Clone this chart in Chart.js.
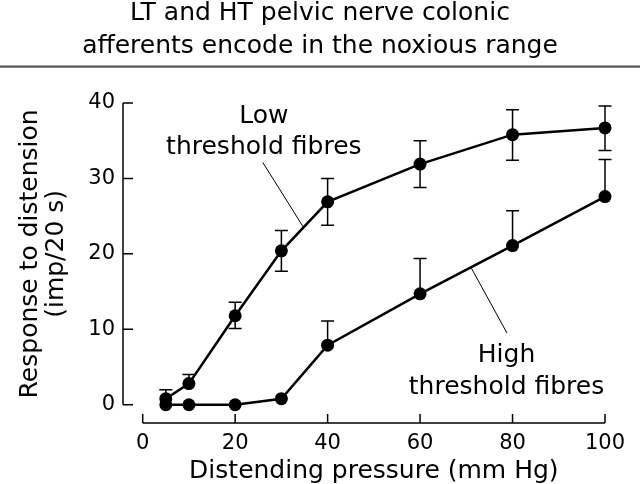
<!DOCTYPE html>
<html>
<head>
<meta charset="utf-8">
<script src="https://cdn.jsdelivr.net/npm/chart.js@4/dist/chart.umd.min.js"></script>
<style>
  html, body { margin: 0; padding: 0; background: #fff; }
  #chart { display: block; }
</style>
</head>
<body>
<canvas id="chart" width="640" height="484"></canvas>
<script>
// --- data ---
const pressure = [5, 10, 20, 30, 40, 60, 80, 100];
const lowMean  = [0.8, 2.8, 11.8, 20.4, 26.9, 31.9, 35.8, 36.7];
const lowUpper = [2.0, 4.0, 13.6, 23.1, 30.0, 35.0, 39.1, 39.6];
const lowLower = [null, null, 10.1, 17.7, 23.8, 28.8, 32.4, 33.7];
const highMean  = [0, 0, 0, 0.8, 7.9, 14.7, 21.1, 27.6];
const highUpper = [null, null, null, null, 11.1, 19.4, 25.7, 32.5];
const highLower = [null, null, null, null, null, null, null, null];

const xTicks = [0, 20, 40, 60, 80, 100];
const yTicks = [0, 10, 20, 30, 40];

const titleLines = ['LT and HT pelvic nerve colonic', 'afferents encode in the noxious range'];
const xTitle = 'Distending pressure (mm Hg)';
const yTitle = ['Response to distension', '(imp/20 s)'];
const lowLabel = ['Low', 'threshold fibres'];
const highLabel = ['High', 'threshold fibres'];

// label placement (in data units)
const notes = [
  { lines: lowLabel, x: 26.2, y: [37.4, 33.2], from: [26.0, 32.1], to: [34.8, 23.5] },
  { lines: highLabel, x: 78.7, y: [5.7, 1.36], from: [71.1, 18.1], to: [78.8, 9.5] }
];

const FONT = '"DejaVu Sans", sans-serif';

const toPoints = (xs, ys) => xs.map((v, i) => ({ x: v, y: ys[i] }));

const errorSets = [
  { upper: lowUpper, lower: lowLower, mean: lowMean },
  { upper: highUpper, lower: highLower, mean: highMean }
];

const extras = {
  id: 'extras',
  beforeDatasetsDraw(chart) {
    const { ctx, chartArea, scales: { x, y } } = chart;
    ctx.save();
    ctx.strokeStyle = '#000';
    ctx.lineWidth = 1.5;
    ctx.lineCap = 'butt';
    // axes with inward ticks
    const ax = chartArea.left, ay = chartArea.bottom;
    ctx.beginPath();
    ctx.moveTo(ax, y.getPixelForValue(yTicks[yTicks.length - 1]));
    ctx.lineTo(ax, y.getPixelForValue(yTicks[0]));
    yTicks.forEach(v => {
      const py = y.getPixelForValue(v);
      ctx.moveTo(ax, py); ctx.lineTo(ax + 10, py);
    });
    ctx.moveTo(x.getPixelForValue(xTicks[0]), ay);
    ctx.lineTo(x.getPixelForValue(xTicks[xTicks.length - 1]), ay);
    xTicks.forEach(v => {
      const px = x.getPixelForValue(v);
      ctx.moveTo(px, ay); ctx.lineTo(px, ay - 9);
    });
    ctx.stroke();

    // error bars
    ctx.lineWidth = 1.5;
    errorSets.forEach(set => {
      pressure.forEach((p, i) => {
        const px = x.getPixelForValue(p);
        const pm = y.getPixelForValue(set.mean[i]);
        [set.upper[i], set.lower[i]].forEach(v => {
          if (v === null || v === undefined) return;
          const pv = y.getPixelForValue(v);
          ctx.beginPath();
          ctx.moveTo(px, pm); ctx.lineTo(px, pv);
          ctx.moveTo(px - 6.5, pv); ctx.lineTo(px + 6.5, pv);
          ctx.stroke();
        });
      });
    });
    ctx.restore();
  },
  afterDraw(chart) {
    const { ctx, scales: { x, y } } = chart;
    ctx.save();
    ctx.fillStyle = '#000';

    // title + rule
    ctx.font = '25px ' + FONT;
    ctx.textAlign = 'center';
    ctx.textBaseline = 'alphabetic';
    ctx.fillText(titleLines[0], 320, 20);
    ctx.fillText(titleLines[1], 320, 53);
    ctx.fillStyle = '#555';
    ctx.fillRect(0, 65.5, 640, 2.2);
    ctx.fillStyle = '#000';

    // axis titles
    ctx.fillText(xTitle, x.getPixelForValue(50), 478);
    ctx.save();
    ctx.translate(37, y.getPixelForValue(20));
    ctx.rotate(-Math.PI / 2);
    ctx.fillText(yTitle[0], 0, 0);
    ctx.fillText(yTitle[1], 0, 26);
    ctx.restore();

    // curve labels with leader lines
    notes.forEach(n => {
      const cx = x.getPixelForValue(n.x);
      n.lines.forEach((t, i) => ctx.fillText(t, cx, y.getPixelForValue(n.y[i])));
      ctx.beginPath();
      ctx.strokeStyle = '#000';
      ctx.lineWidth = 1;
      ctx.moveTo(x.getPixelForValue(n.from[0]), y.getPixelForValue(n.from[1]));
      ctx.lineTo(x.getPixelForValue(n.to[0]), y.getPixelForValue(n.to[1]));
      ctx.stroke();
    });
    ctx.restore();
  }
};

const lineStyle = {
  borderColor: '#000',
  borderWidth: 2.5,
  pointRadius: 6.5,
  pointBackgroundColor: '#000',
  pointBorderColor: '#000',
  pointBorderWidth: 0,
  tension: 0,
  fill: false,
  clip: false
};

new Chart(document.getElementById('chart'), {
  type: 'line',
  data: {
    datasets: [
      { label: 'Low threshold fibres', data: toPoints(pressure, lowMean), ...lineStyle },
      { label: 'High threshold fibres', data: toPoints(pressure, highMean), ...lineStyle }
    ]
  },
  options: {
    responsive: false,
    animation: false,
    layout: { padding: { top: 103, right: 35, left: 0, bottom: 0 } },
    plugins: { legend: { display: false }, tooltip: { enabled: false } },
    scales: {
      x: {
        type: 'linear', min: -4.26, max: 100,
        afterBuildTicks: s => { s.ticks = xTicks.map(v => ({ value: v })); },
        afterFit: s => { s.height = 61; },
        grid: { display: false, drawTicks: false },
        border: { display: false },
        ticks: { color: '#000', font: { family: FONT, size: 21 }, padding: 8, maxRotation: 0 }
      },
      y: {
        type: 'linear', min: -2.42, max: 40,
        afterBuildTicks: s => { s.ticks = yTicks.map(v => ({ value: v })); },
        afterFit: s => { s.width = 123; },
        grid: { display: false, drawTicks: false },
        border: { display: false },
        ticks: { color: '#000', font: { family: FONT, size: 21 }, padding: 8 }
      }
    }
  },
  plugins: [extras]
});
</script>
</body>
</html>
